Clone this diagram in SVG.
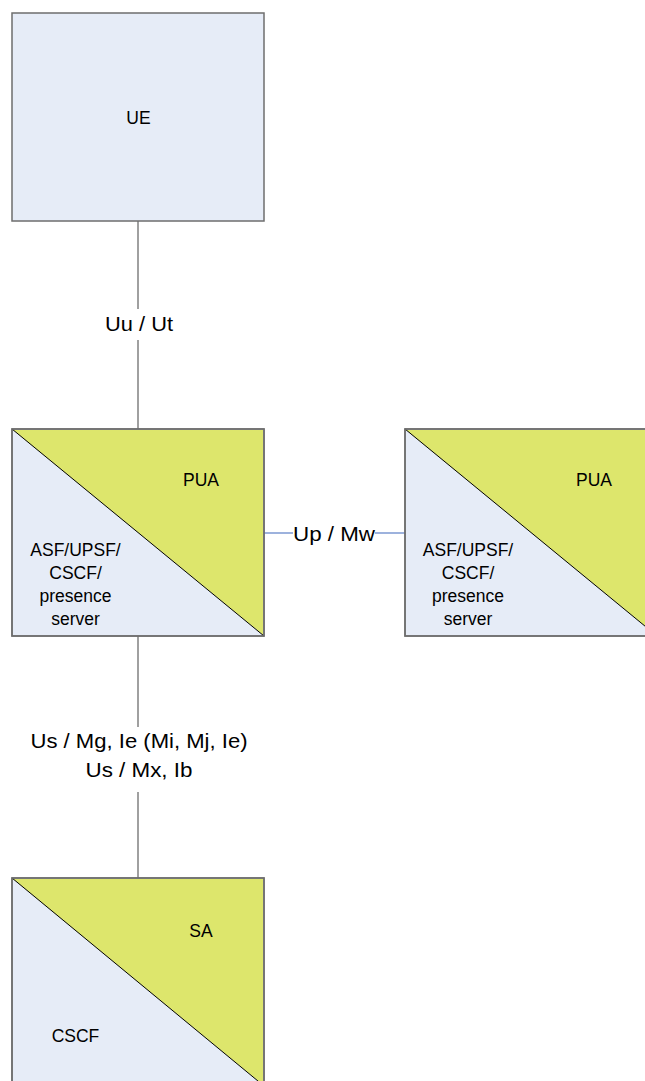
<svg xmlns="http://www.w3.org/2000/svg" width="645" height="1081" viewBox="0 0 645 1081">
<style>
.box{fill:#e6ecf7;stroke:#6e6e6e;stroke-width:1.5}
.tri{fill:#dde66c;stroke:none}
.diag{stroke:#000;stroke-width:1;fill:none}
.lbl{font-family:"Liberation Sans",Arial,sans-serif;font-size:17.5px;fill:#000;text-anchor:middle}
.clbl{font-family:"Liberation Sans",Arial,sans-serif;font-size:21px;fill:#000;text-anchor:middle}
.vcon{stroke:#808080;stroke-width:1.5;fill:none}
.hcon{stroke:#5b7fc7;stroke-width:1.2;fill:none}
</style>
<g id="connectors">
<line class="vcon" x1="138" y1="221" x2="138" y2="309"/>
<line class="vcon" x1="138" y1="340" x2="138" y2="429"/>
<text class="clbl" x="139" y="331" textLength="68" lengthAdjust="spacingAndGlyphs">Uu / Ut</text>
<line class="hcon" x1="264" y1="533" x2="293" y2="533"/>
<line class="hcon" x1="375" y1="533" x2="405" y2="533"/>
<text class="clbl" x="334" y="541" textLength="82" lengthAdjust="spacingAndGlyphs">Up / Mw</text>
<line class="vcon" x1="138" y1="636" x2="138" y2="727"/>
<line class="vcon" x1="138" y1="792" x2="138" y2="878"/>
<text class="clbl" x="139" y="748" textLength="217" lengthAdjust="spacingAndGlyphs">Us / Mg, Ie (Mi, Mj, Ie)</text>
<text class="clbl" x="139" y="777" textLength="107" lengthAdjust="spacingAndGlyphs">Us / Mx, Ib</text>
</g>
<g id="ue">
<rect class="box" x="12" y="13" width="252" height="208"/>
<text class="lbl" x="138.5" y="124">UE</text>
</g>
<g id="pua1">
<rect class="box" x="12" y="429" width="252" height="207"/>
<polygon class="tri" points="13,430 263,430 263,635"/>
<line class="diag" x1="12" y1="429" x2="264" y2="636"/>
<rect x="12" y="429" width="252" height="207" fill="none" stroke="#6e6e6e" stroke-width="1.5"/>
<text class="lbl" x="201" y="486">PUA</text>
<text class="lbl" x="75.5" y="556">ASF/UPSF/</text>
<text class="lbl" x="75.5" y="579">CSCF/</text>
<text class="lbl" x="75.5" y="602">presence</text>
<text class="lbl" x="75.5" y="625">server</text>
</g>
<g id="pua2">
<rect class="box" x="405" y="429" width="252" height="207"/>
<polygon class="tri" points="406,430 656,430 656,635"/>
<line class="diag" x1="405" y1="429" x2="657" y2="636"/>
<rect x="405" y="429" width="252" height="207" fill="none" stroke="#6e6e6e" stroke-width="1.5"/>
<text class="lbl" x="594" y="486">PUA</text>
<text class="lbl" x="468" y="556">ASF/UPSF/</text>
<text class="lbl" x="468" y="579">CSCF/</text>
<text class="lbl" x="468" y="602">presence</text>
<text class="lbl" x="468" y="625">server</text>
</g>
<g id="sa">
<rect class="box" x="12" y="878" width="252" height="208"/>
<polygon class="tri" points="13,879 263,879 263,1085"/>
<line class="diag" x1="12" y1="878" x2="264" y2="1086"/>
<rect x="12" y="878" width="252" height="208" fill="none" stroke="#6e6e6e" stroke-width="1.5"/>
<text class="lbl" x="201" y="937">SA</text>
<text class="lbl" x="75.5" y="1042">CSCF</text>
</g>
</svg>
